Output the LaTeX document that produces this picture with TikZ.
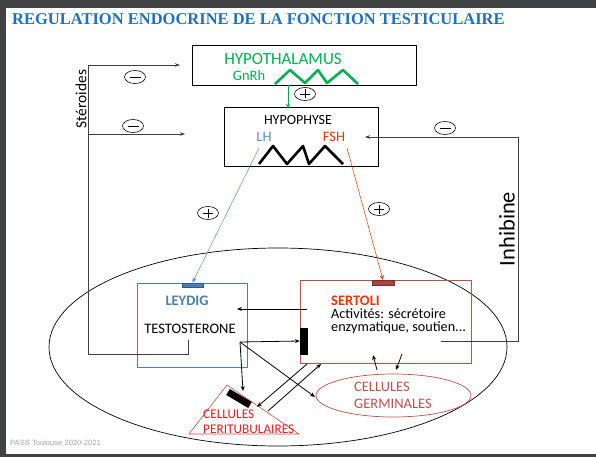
\documentclass[tikz,border=0pt]{standalone}
\usepackage{fontspec}
\setmainfont{Carlito}
\newfontfamily\titlefont{Liberation Serif}
\newfontfamily\footfont{Liberation Sans}
\usetikzlibrary{arrows.meta,shapes.geometric}
\definecolor{framegray}{HTML}{404244}
\definecolor{titleblue}{HTML}{1F6FC4}
\definecolor{hgreen}{HTML}{00B050}
\definecolor{lhblue}{HTML}{5B8FD0}
\definecolor{leyblue}{HTML}{4A7EBB}
\definecolor{fshred}{HTML}{FF3300}
\definecolor{serred}{HTML}{C0504D}
\definecolor{recred}{HTML}{A94442}
\definecolor{pured}{HTML}{FF1A1A}
\definecolor{footgray}{HTML}{A6A6A6}
\newcommand\lbl{\fontsize{14.5}{16}\selectfont}
\tikzset{
  sign/.style={draw, ellipse, line width=0.6pt, minimum width=21pt, minimum height=13pt, inner sep=0pt},
  arr/.style={-{Stealth[length=5pt,width=4pt]}, line width=0.8pt},
  thinarr/.style={-{Stealth[length=5pt,width=4pt]}, line width=0.5pt},
  fb/.style={line width=0.6pt, draw=black!75},
  recbar/.style={fill=black, draw=black, inner sep=0pt},
}
\begin{document}
\begin{tikzpicture}[x=1pt,y=-1pt]
\fill[framegray] (0,0) rectangle (596,457);
\fill[white] (6,8) rectangle (596,454);
\useasboundingbox (0,0) rectangle (596,457);

% title
\node[anchor=base west, inner sep=0pt, text=titleblue, font=\titlefont\bfseries\fontsize{16.5}{18}\selectfont] (title) at (12,25) {REGULATION ENDOCRINE DE LA FONCTION TESTICULAIRE};

% hypothalamus
\node[draw, line width=0.7pt, minimum width=224pt, minimum height=40pt, inner sep=0pt] (hypo) at (304,65) {};
\node[text=hgreen, font=\fontsize{17}{19}\selectfont, inner sep=0pt] (hyptxt) at (283,59) {HYPOTHALAMUS};
\node[text=hgreen, font=\lbl, inner sep=0pt] (gnrh) at (249,76) {GnRh};
\draw[hgreen, line width=2.6pt, line join=round] (275,84) -- (290,70) -- (305,83) -- (318,70) -- (327,83) -- (343,70) -- (358,84);

% hypophyse
\node[draw, line width=0.7pt, minimum width=154pt, minimum height=59pt, inner sep=0pt] (hyph) at (301,136.5) {};
\node[font=\fontsize{14}{16}\selectfont, inner sep=0pt] (hyphtxt) at (298,120) {HYPOPHYSE};
\node[text=lhblue, font=\lbl, inner sep=0pt] (lh) at (264,137) {LH};
\node[text=fshred, font=\lbl, inner sep=0pt] (fsh) at (334,137) {FSH};
\draw[black, line width=2.6pt, line join=round] (259,164) -- (273,146) -- (287,164) -- (303,146) -- (309,164) -- (325,146) -- (343,164);

% GnRH arrow
\coordinate (gA) at (288,85);
\coordinate (gB) at (288,109);
\draw[hgreen, thinarr, line width=0.8pt] (gA) -- (gB);
\node[sign] (p1) at (305,94) {};
\draw[line width=0.6pt] ([xshift=-5pt]p1.center) -- ([xshift=5pt]p1.center) ([yshift=-4.5pt]p1.center) -- ([yshift=4.5pt]p1.center);

% big ellipse (testis)
\node[draw, ellipse, line width=0.7pt, minimum width=458pt, minimum height=198pt, inner sep=0pt] (testis) at (278,347) {};

% Leydig
\node[draw=leyblue, line width=0.8pt, minimum width=110pt, minimum height=84pt, inner sep=0pt] (leydig) at (192,325) {};
\node[fill=leyblue, draw=leyblue!70!black, line width=0.4pt, minimum width=21pt, minimum height=4.5pt, inner sep=0pt] (leyrec) at (192.5,285) {};
\node[text=leyblue, font=\bfseries\lbl, inner sep=0pt] (leytxt) at (187,301) {LEYDIG};
\node[font=\lbl, inner sep=0pt] (testo) at (190,329) {TESTOSTERONE};

% Sertoli
\node[draw=serred, line width=0.8pt, minimum width=171pt, minimum height=83pt, inner sep=0pt] (sertoli) at (385.5,321.5) {};
\node[fill=recred, draw=recred!70!black, line width=0.4pt, minimum width=22pt, minimum height=4.5pt, inner sep=0pt] (serrec) at (383,282.5) {};
\node[anchor=base west, text=fshred, font=\bfseries\lbl, inner sep=0pt] (sertxt) at (331,305) {SERTOLI};
\node[anchor=base west, font=\fontsize{14.2}{16}\selectfont, inner sep=0pt] (act1) at (331,318.5) {Activités: sécrétoire};
\node[anchor=base west, font=\fontsize{14.2}{16}\selectfont, inner sep=0pt] (act2) at (331,331.5) {enzymatique, soutien...};
\node[recbar, minimum width=7pt, minimum height=26pt] (serbar) at (303.5,341) {};

% germinales
\node[draw=serred, ellipse, line width=0.7pt, minimum width=155pt, minimum height=43pt, inner sep=0pt] (germ) at (393.5,395.5) {};
\node[text=serred, font=\lbl, inner sep=0pt] (germ1) at (382,387) {CELLULES};
\node[text=serred, font=\lbl, inner sep=0pt] (germ2) at (393,404) {GERMINALES};

% peritubular
\coordinate (triL) at (189,434);
\coordinate (triR) at (299,434);
\coordinate (triT) at (227,385);
\draw[serred, line width=0.6pt] (triL) -- (triT) -- (triR) -- cycle;
\coordinate (pbA) at (228,392);
\coordinate (pbB) at (250,405);
\draw[line width=7pt] (pbA) -- (pbB);
\node[anchor=west, text=pured, font=\fontsize{13.3}{15}\selectfont, inner sep=0pt] (peri1) at (203,414) {CELLULES};
\node[anchor=west, text=pured, font=\fontsize{13.3}{15}\selectfont, inner sep=0pt] (peri2) at (203,429) {PERITUBULAIRES};

% LH / FSH arrows
\coordinate (lhA) at (259,148);
\coordinate (fshA) at (347,148);
\draw[lhblue, thinarr] (lhA) -- (leyrec.north);
\draw[fshred, thinarr] (fshA) -- (serrec.north);
\node[sign] (p2) at (208,213) {};
\draw[line width=0.6pt] ([xshift=-5pt]p2.center) -- ([xshift=5pt]p2.center) ([yshift=-4.5pt]p2.center) -- ([yshift=4.5pt]p2.center);
\node[sign] (p3) at (379,209) {};
\draw[line width=0.6pt] ([xshift=-5pt]p3.center) -- ([xshift=5pt]p3.center) ([yshift=-4.5pt]p3.center) -- ([yshift=4.5pt]p3.center);

% steroid feedback
\coordinate (tsA) at (188,340);
\coordinate (tsB) at (188,354);
\coordinate (tsC) at (88,354);
\coordinate (tsD) at (88,65);
\coordinate (tsE) at (180,65);
\coordinate (tsF) at (88,134);
\coordinate (tsG) at (185,134);
\draw[fb] (tsA) -- (tsB) -- (tsC) -- (tsD);
\draw[fb, -{Stealth[length=5pt,width=3.5pt]}] (tsD) -- (tsE);
\draw[fb, -{Stealth[length=5pt,width=3.5pt]}] (tsF) -- (tsG);
\node[rotate=90, font=\fontsize{15.4}{17}\selectfont, inner sep=0pt] (ster) at (81,99) {Stéroides};
\node[sign] (m1) at (135,77) {};
\draw[line width=0.6pt] ([xshift=-5.5pt]m1.center) -- ([xshift=5.5pt]m1.center);
\node[sign] (m2) at (133,126) {};
\draw[line width=0.6pt] ([xshift=-5.5pt]m2.center) -- ([xshift=5.5pt]m2.center);

% inhibin feedback
\coordinate (inA) at (441,341);
\coordinate (inB) at (518,341);
\coordinate (inC) at (518,137);
\coordinate (inD) at (365,137);
\draw[fb, -{Stealth[length=5pt,width=3.5pt]}] (inA) -- (inB) -- (inC) -- (inD);
\node[rotate=90, font=\fontsize{22.5}{24}\selectfont, inner sep=0pt] (inh) at (507,229) {Inhibine};
\node[sign] (m3) at (445,128) {};
\draw[line width=0.6pt] ([xshift=-5.5pt]m3.center) -- ([xshift=5.5pt]m3.center);

% local arrows
\coordinate (s2l) at (307,309);
\coordinate (s2lE) at (237,309);
\draw[arr] (s2l) -- (s2lE);
\coordinate (tO) at (240,342);
\draw[arr] (tO) -- (serbar.west);
\coordinate (tP) at (243,391);
\draw[arr] (tO) -- (tP);
\coordinate (tG) at (315,397);
\draw[arr] (tO) -- (tG);
\coordinate (sp1) at (307,364);
\coordinate (sp2) at (257,407);
\draw[arr] (sp1) -- (sp2);
\coordinate (ps1) at (268,411);
\coordinate (ps2) at (321,364);
\draw[arr] (ps1) -- (ps2);
\coordinate (gs1) at (377,370);
\coordinate (gs2) at (373,355);
\draw[arr] (gs1) -- (gs2);
\coordinate (sg1) at (402,354);
\coordinate (sg2) at (396,370);
\draw[arr] (sg1) -- (sg2);

% footer
\node[anchor=base west, text=footgray, font=\footfont\fontsize{7.6}{9}\selectfont, inner sep=0pt] (foot) at (10,445) {PASS Toulouse 2020-2021};
\end{tikzpicture}
\end{document}
